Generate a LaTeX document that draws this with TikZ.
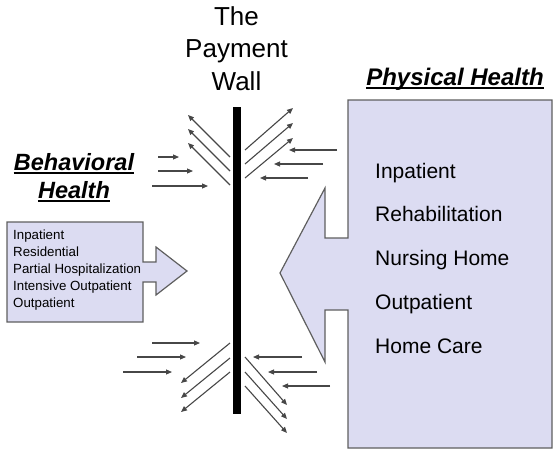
\documentclass[tikz,border=0pt]{standalone}
\usepackage{fontspec}
\setmainfont{Liberation Sans}
\usetikzlibrary{positioning,arrows.meta}
\definecolor{boxfill}{RGB}{220,220,242}
\definecolor{boxline}{RGB}{95,95,95}
\tikzset{
    every node/.style={inner sep=0pt},
    walltitle/.style={font=\fontsize{26}{32}\selectfont, anchor=base},
    heading/.style={font=\fontsize{23.5}{28}\selectfont\bfseries\itshape, anchor=base},
    bigitem/.style={font=\fontsize{21}{25}\selectfont, anchor=base west},
    smallitem/.style={font=\fontsize{13.3}{16}\selectfont, anchor=base west},
    carebox/.style={draw=boxline, fill=boxfill, line width=1.2pt},
    flow/.style={-{Triangle[length=6pt,width=5pt]}, black!72, line width=1.1pt},
    headline/.style={line width=1.8pt},
}

\begin{document}
\begin{tikzpicture}[x=1pt, y=-1pt]
\useasboundingbox (0,0) rectangle (553,450);
% the wall and its title
\node[fill=black, minimum width=8pt, minimum height=307pt] (wall) at (237,260.5) {};
\node[walltitle] (wt1) at (236.5,25) {The};
\node[walltitle, below=32pt of wt1.base, anchor=base] (wt2) {Payment};
\node[walltitle, below=33pt of wt2.base, anchor=base] (wt3) {Wall};

% behavioral health side
\node[heading] (bh1) at (74,170) {Behavioral};
\node[heading, below=28pt of bh1.base, anchor=base] (bh2) {Health};
\draw[headline] ([yshift=-3pt]bh1.base west) -- ([yshift=-3pt]bh1.base east);
\draw[headline] ([yshift=-3pt]bh2.base west) -- ([yshift=-3pt]bh2.base east);
\draw[carebox] (7,222) -- (143,222) -- (143,262) -- (156,262) -- (156,247)
  -- (187,271) -- (156,295) -- (156,282) -- (143,282) -- (143,322) -- (7,322) -- cycle;
\foreach \t [count=\i] in {Inpatient, Residential, Partial Hospitalization, Intensive Outpatient, Outpatient}
  \node[smallitem] (bitem-\i) at (13,{239+17*(\i-1)}) {\t};

% physical health side
\node[heading, font=\fontsize{24}{28}\selectfont\bfseries\itshape] (ph) at (455,85) {Physical Health};
\draw[headline] ([yshift=-3pt]ph.base west) -- ([yshift=-3pt]ph.base east);
\draw[carebox] (348,100) -- (552,100) -- (552,448) -- (348,448) -- (348,310) -- (325,310)
  -- (325,362) -- (280,273) -- (325,188) -- (325,238) -- (348,238) -- cycle;
\foreach \t [count=\i] in {Inpatient, Rehabilitation, Nursing Home, Outpatient, Home Care}
  \node[bigitem] (pitem-\i) at (375,{178+43.75*(\i-1)}) {\t};

% flows bouncing off the wall, top half
\foreach \xa/\xb/\y in {158/179/157, 158/193/171, 152/208/186}
  \draw[flow] (\xa,\y) -- (\xb,\y);
\foreach \ya/\yb in {157/115, 171/129, 185/143}
  \draw[flow] (230,\ya) -- (188,\yb);
\foreach \ya/\yb in {150/108, 164/123, 178/138}
  \draw[flow] (245,\ya) -- (293,\yb);
\foreach \xa/\xb/\y in {337/289/150, 323/274/164, 308/260/178}
  \draw[flow] (\xa,\y) -- (\xb,\y);

% bottom half
\foreach \xa/\xb/\y in {152/200/343, 137/186/357, 123/172/372}
  \draw[flow] (\xa,\y) -- (\xb,\y);
\foreach \ya/\yb in {343/383, 358/398, 372/412}
  \draw[flow] (230,\ya) -- (181,\yb);
\foreach \ya/\yb in {357/405, 372/419, 386/433}
  \draw[flow] (245,\ya) -- (287,\yb);
\foreach \xa/\xb/\y in {302/253/357, 317/268/372, 330/282/386}
  \draw[flow] (\xa,\y) -- (\xb,\y);
\end{tikzpicture}
\end{document}
